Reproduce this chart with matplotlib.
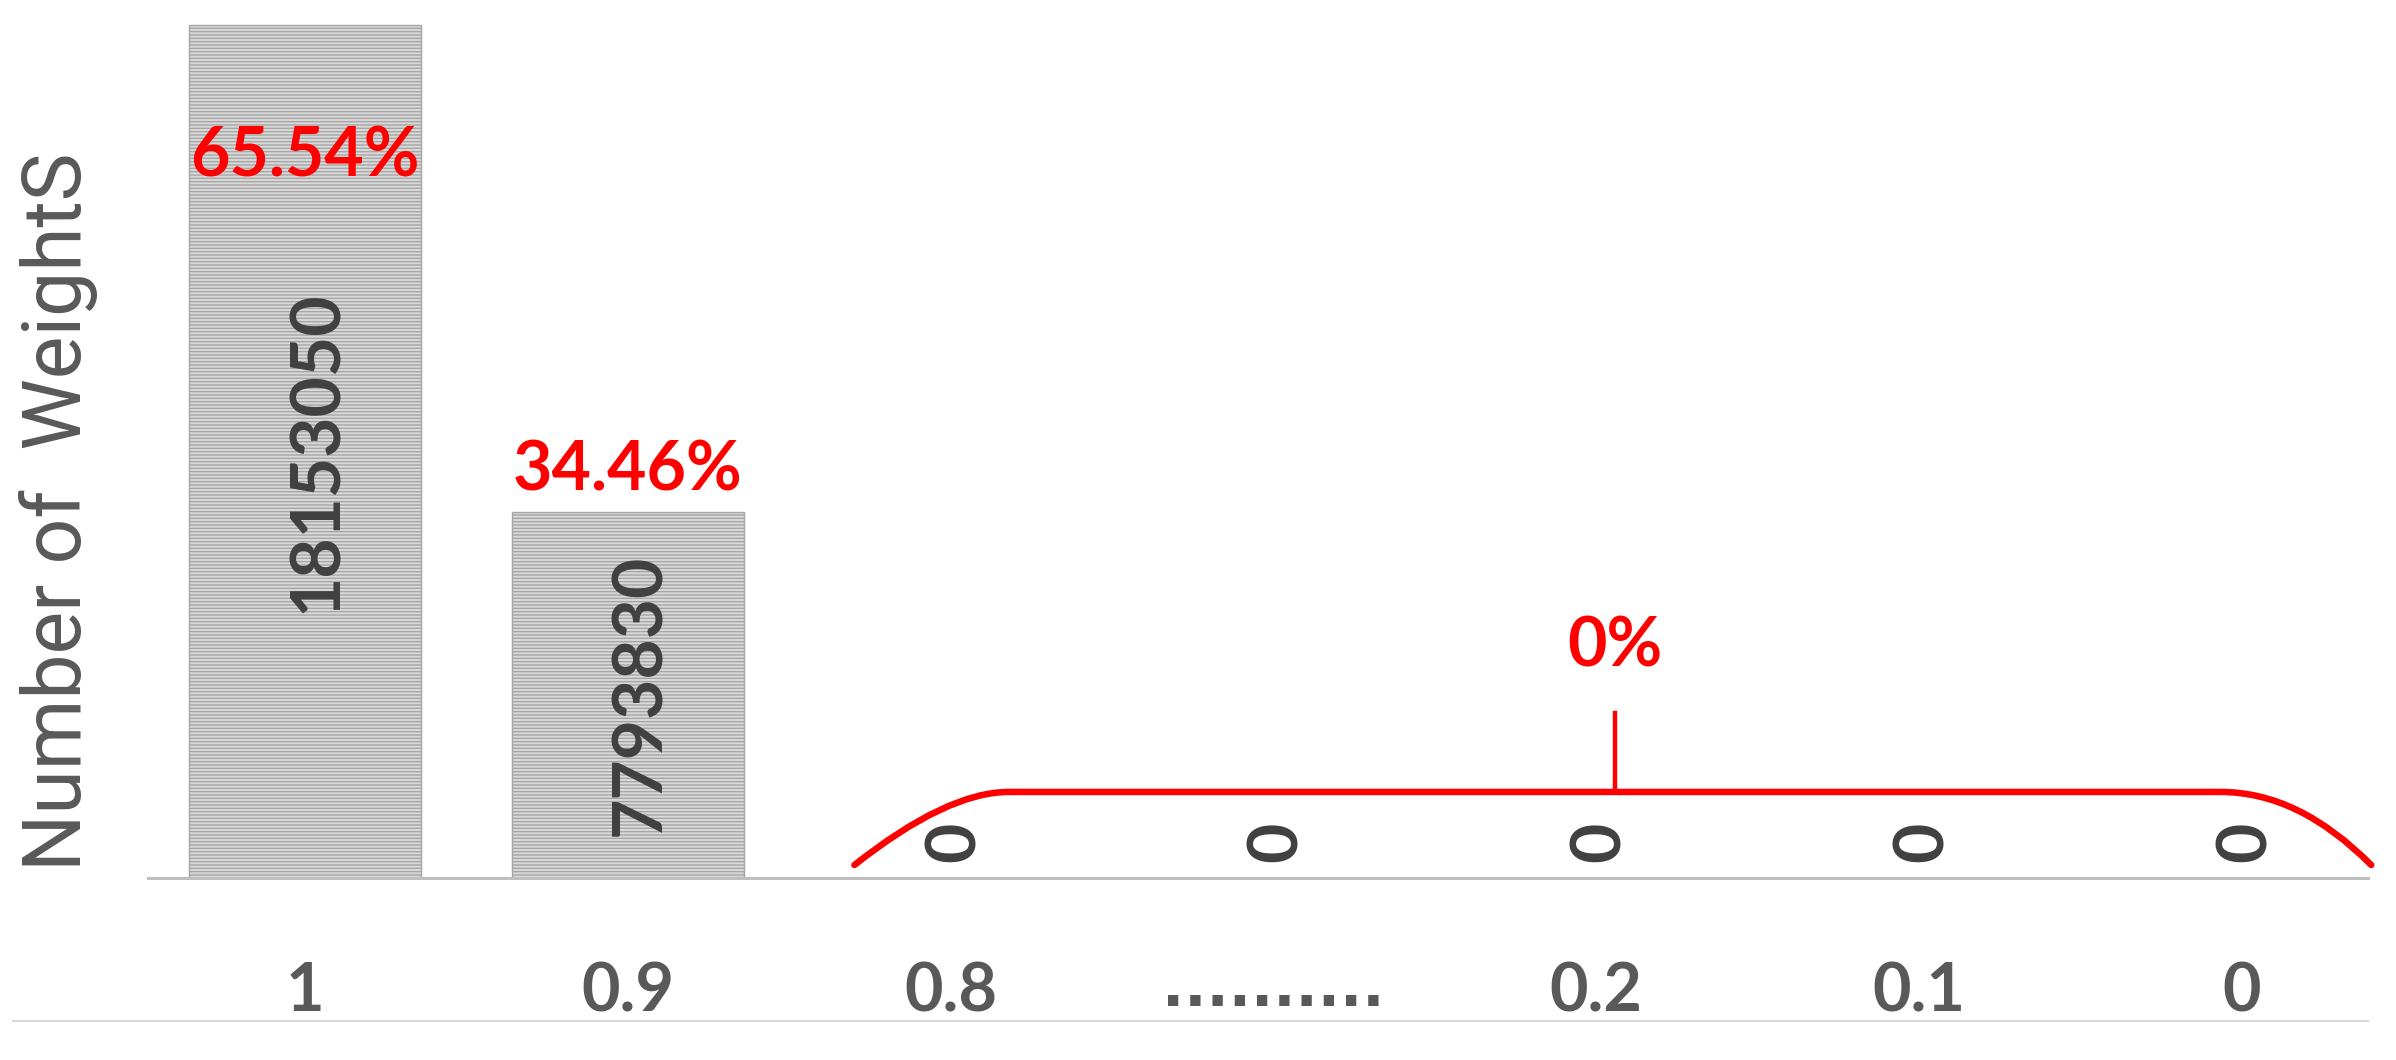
# pesos.py

import matplotlib.pyplot as plt
import matplotlib.lines as mlines
import matplotlib.transforms as mtransforms
from matplotlib.path import Path
from matplotlib.patches import PathPatch
import numpy as np

# Datos
categorias = ['1', '0.9', '0.8', '..........', '0.2', '0.1', '0']
cantidades = [18153050, 7793830, 0, 0, 0, 0, 0]
porcentajes = ['65.54%', '34.46%']
porcentaje_ceros = '0%'

plt.rcParams['font.family'] = ['Lato', 'DejaVu Sans']
plt.rcParams['hatch.linewidth'] = 1.0

ANCHO, ALTO = 2396, 1060
fig = plt.figure(figsize=(ANCHO / 100, ALTO / 100), dpi=100)
ax = fig.add_axes([148 / ANCHO, 182 / ALTO, 2220 / ANCHO, 878 / ALTO])

x = np.arange(len(categorias))
ax.bar(x, cantidades, width=0.717, color='#d9d9d9', edgecolor='#a6a6a6',
       hatch='-----', linewidth=1)
ax.set_xlim(-0.486, 6.39)
ax.set_ylim(0, max(cantidades) * 878 / 853)

# ejes
for lado in ['top', 'right', 'left']:
    ax.spines[lado].set_visible(False)
ax.spines['bottom'].set_color('#bfbfbf')
ax.spines['bottom'].set_linewidth(2.2)
ax.set_yticks([])
ax.set_xticks(x)
ax.set_xticklabels(categorias, fontsize=48, fontweight='bold', color='#595959')
ax.tick_params(axis='x', length=0, pad=60)
# los puntos suspensivos van más espaciados
for etiqueta in ax.get_xticklabels():
    if etiqueta.get_text().startswith('.'):
        etiqueta.set_family('DejaVu Sans')
        etiqueta.set_fontsize(42)

# etiquetas de valores (rotadas)
for i, c in enumerate(cantidades):
    if c > 0:
        ax.annotate(str(c), xy=(i, c / 2), xytext=(9, 0), textcoords='offset points',
                    rotation=90, ha='center', va='center', fontsize=50,
                    fontweight='bold', color='#404040')
    else:
        ax.annotate(str(c), xy=(i, 0), xytext=(3, 26), textcoords='offset points',
                    rotation=90, ha='center', va='center', fontsize=50,
                    fontweight='bold', color='#404040')

# porcentajes
for i, p in enumerate(porcentajes):
    h = cantidades[i]
    dy = -95 if h == max(cantidades) else 29
    ax.annotate(p, xy=(i, h), xytext=(0, dy), textcoords='offset points',
                ha='center', va='center', fontsize=49, fontweight='bold', color='#ff0000')

# llave roja sobre las barras en cero
trans = mtransforms.blended_transform_factory(ax.transData, ax.transAxes)
ceros = [i for i, c in enumerate(cantidades) if c == 0]
x0, x1 = ceros[0], ceros[-1]
y_base, y_arriba, y_tick = 0.0148, 0.098, 0.188
verts = [(x0 - 0.298, y_base), (x0 - 0.012, y_arriba), (x0 + 0.18, y_arriba),
         (x1 - 0.066, y_arriba), (x1 + 0.176, y_arriba), (x1 + 0.40, y_base)]
codes = [Path.MOVETO, Path.CURVE3, Path.CURVE3, Path.LINETO, Path.CURVE3, Path.CURVE3]
llave = PathPatch(Path(verts, codes), facecolor='none', edgecolor='#ff0000',
                  linewidth=4.7, capstyle='round', transform=trans, clip_on=False)
ax.add_patch(llave)
x_medio = (x0 + 0.18 + x1 - 0.066) / 2
ax.plot([x_medio, x_medio], [y_arriba, y_tick], color='#ff0000', linewidth=3.2,
        transform=trans, clip_on=False)
ax.text(x_medio, 0.263, porcentaje_ceros, transform=trans, ha='center', va='center',
        fontsize=49, fontweight='bold', color='#ff0000')

# título del eje y y línea inferior
fig.text(58 / ANCHO, 1 - 512 / ALTO, 'Number of  WeightS', rotation=90,
         ha='center', va='center', fontsize=58, color='#595959',
         family=['Roboto', 'DejaVu Sans'])
fig.add_artist(mlines.Line2D([13 / ANCHO, 2368 / ANCHO], [1 - 1021 / ALTO] * 2,
                             color='#d9d9d9', linewidth=1.5))

fig.savefig('out.png', dpi=100)
